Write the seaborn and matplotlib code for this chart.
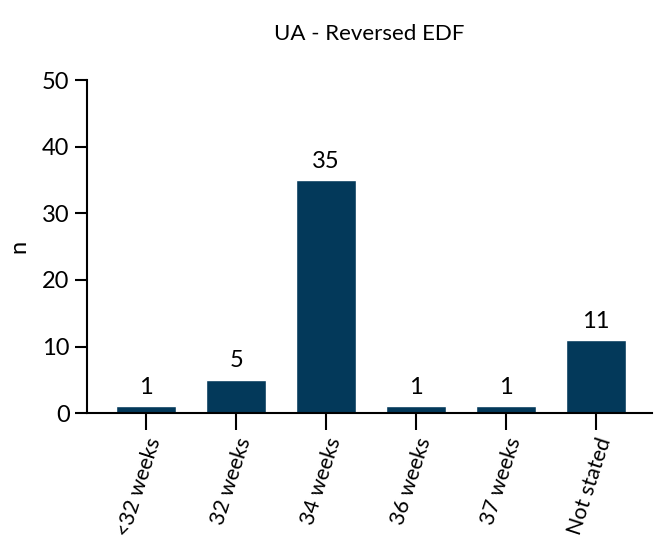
import matplotlib
matplotlib.use("Agg")
import matplotlib.pyplot as plt
import seaborn as sns
import pandas as pd

categories = ["<32 weeks", "32 weeks", "34 weeks", "36 weeks", "37 weeks", "Not stated"]
counts = [1, 5, 35, 1, 1, 11]
title = "UA - Reversed EDF"
ylabel = "n"
yticks = [0, 10, 20, 30, 40, 50]

sns.set_theme(style="ticks")
plt.rcParams['font.family'] = ['Lato', 'DejaVu Sans']
plt.rcParams['text.color'] = 'black'

df = pd.DataFrame({"cat": categories, "n": counts})
fig = plt.figure(figsize=(6.54, 5.45), dpi=100)
ax = fig.add_axes([0.133, 0.242, 0.864, 0.611])
sns.barplot(data=df, x="cat", y="n", color="#03395a", saturation=1, width=0.667, ax=ax)
for p, v in zip(ax.patches, counts):
    ax.annotate(str(v), (p.get_x() + p.get_width() / 2, p.get_height()),
                xytext=(0, 6), textcoords="offset points", ha="center", va="bottom",
                fontsize=17, color="black")
ax.set_xlim(-0.656, 5.62)
ax.set_ylim(0, 50)
ax.set_yticks(yticks)
ax.set_xlabel("")
ax.set_ylabel(ylabel, fontsize=17, labelpad=9, color="black")
ax.set_title(title, fontsize=16, pad=29, color="black")
for s in ["top", "right"]:
    ax.spines[s].set_visible(False)
for s in ["left", "bottom"]:
    ax.spines[s].set_linewidth(1.5)
    ax.spines[s].set_color("black")
ax.tick_params(axis="both", which="major", length=9, width=1.5, color="black", labelsize=17, labelcolor="black")
ax.tick_params(axis="x", length=12, pad=4, labelsize=15.5)
plt.setp(ax.get_xticklabels(), rotation=72, ha="right", rotation_mode="anchor")
fig.savefig("out.png", dpi=100)
